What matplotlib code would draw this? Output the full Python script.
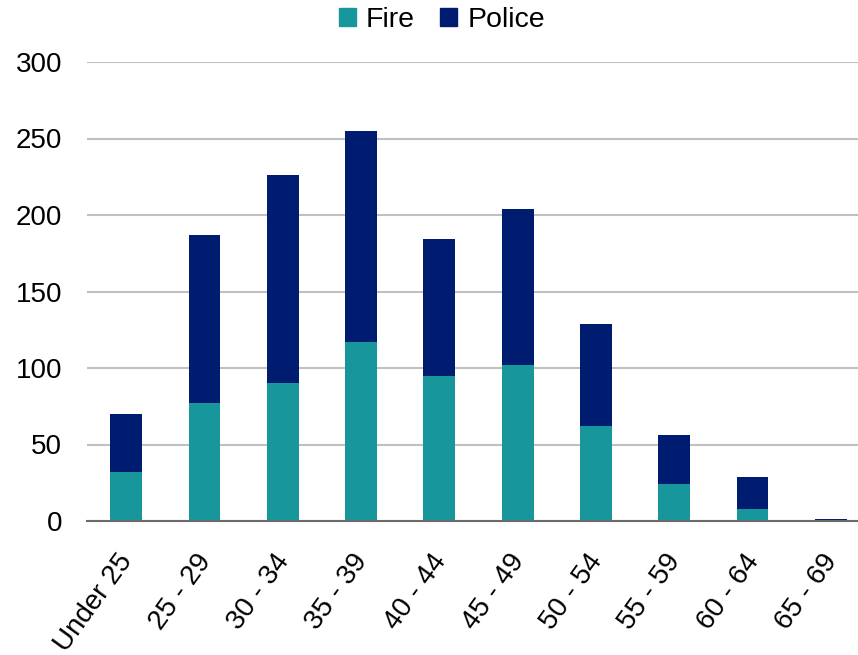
import matplotlib.pyplot as plt
from matplotlib.patches import Patch
from matplotlib.transforms import ScaledTranslation

categories = ["Under 25", "25 - 29", "30 - 34", "35 - 39", "40 - 44",
              "45 - 49", "50 - 54", "55 - 59", "60 - 64", "65 - 69"]
fire = [32, 77, 90, 117, 95, 102, 62, 24, 8, 0]
police = [38, 110, 136, 138, 89, 102, 67, 32, 21, 1]

fire_color = "#17979C"
police_color = "#001C71"

plt.rcParams['font.family'] = ['Liberation Sans', 'DejaVu Sans']

fig = plt.figure(figsize=(8.58, 6.55), dpi=100)
ax = fig.add_axes([87 / 858, 1 - 521 / 655, 783 / 858, 459 / 655])

x = list(range(len(categories)))
ax.bar(x, fire, width=0.405, color=fire_color, zorder=3)
ax.bar(x, police, width=0.405, bottom=fire, color=police_color, zorder=3)

ax.set_xlim(-0.5, 9.5)
ax.set_ylim(0, 300)
ax.set_yticks(range(0, 301, 50))
ax.yaxis.grid(True, color="#C0C0C0", linewidth=1.5, zorder=0)
ax.set_axisbelow(True)

for s in ["top", "right", "left"]:
    ax.spines[s].set_visible(False)
ax.spines["bottom"].set_color("#6B6B6B")
ax.spines["bottom"].set_linewidth(1.5)
ax.spines["bottom"].set_zorder(4)

ax.tick_params(axis="y", length=0, labelsize=20, pad=18)
ax.tick_params(axis="x", length=0, labelsize=20, pad=20)
ax.set_xticks(x)
ax.set_xticklabels(categories, rotation=54, ha="right", va="top",
                   rotation_mode="anchor")
shift = ScaledTranslation(-9 / 100, 0, fig.dpi_scale_trans)
for lbl in ax.get_xticklabels():
    lbl.set_transform(lbl.get_transform() + shift)

handles = [Patch(color=fire_color, label="Fire"),
           Patch(color=police_color, label="Police")]
fig.legend(handles=handles, loc="center", bbox_to_anchor=(0.515, 0.970),
           ncol=2, frameon=False, fontsize=20.5, handlelength=0.6,
           handleheight=0.6, handletextpad=0.35, columnspacing=0.9)

fig.savefig("out.png", dpi=100)
